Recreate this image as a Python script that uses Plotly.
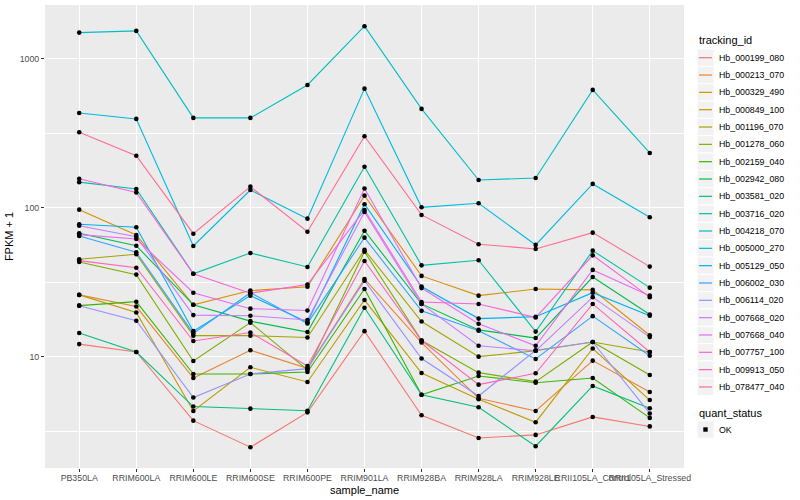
import plotly.graph_objects as go

# ---------------- data ----------------
samples = ["PB350LA", "RRIM600LA", "RRIM600LE", "RRIM600SE", "RRIM600PE",
           "RRIM901LA", "RRIM928BA", "RRIM928LA", "RRIM928LE",
           "RRII105LA_Control", "RRII105LA_Stressed"]

tracking_ids = ["Hb_000199_080", "Hb_000213_070", "Hb_000329_490", "Hb_000849_100",
                "Hb_001196_070", "Hb_001278_060", "Hb_002159_040", "Hb_002942_080",
                "Hb_003581_020", "Hb_003716_020", "Hb_004218_070", "Hb_005000_270",
                "Hb_005129_050", "Hb_006002_030", "Hb_006114_020", "Hb_007668_020",
                "Hb_007668_040", "Hb_007757_100", "Hb_009913_050", "Hb_078477_040"]

colors = ["#F8766D", "#EA8331", "#D89000", "#C09B00", "#A3A500", "#7CAE00",
          "#39B600", "#00BB4E", "#00BF7D", "#00C1A3", "#00BFC4", "#00BAE0",
          "#00B0F6", "#35A2FF", "#9590FF", "#C77CFF", "#E76BF3", "#FA62DB",
          "#FF62BC", "#FF6C91"]

# FPKM + 1 per sample
hb_000199_080 = [12.2, 10.8, 3.74, 2.48, 4.25, 14.9, 4.06, 2.86, 3.00, 3.96, 3.42]
hb_000213_070 = [26.1, 21.8, 7.23, 11.1, 8.40, 33.4, 12.5, 5.28, 4.34, 9.45, 5.82]
hb_000329_490 = [97.4, 65.9, 22.4, 27.9, 29.6, 121, 35.0, 25.8, 28.6, 28.2, 14.0]
hb_000849_100 = [26.1, 19.9, 4.34, 8.53, 6.80, 24.1, 7.81, 5.20, 3.65, 11.4, 5.14]
hb_001196_070 = [45.3, 48.9, 13.9, 13.9, 13.5, 52.3, 17.3, 10.05, 11.0, 12.6, 10.8]
hb_001278_060 = [43.4, 35.7, 9.40, 17.0, 8.18, 50.9, 12.9, 7.85, 6.83, 12.6, 7.57]
hb_002159_040 = [22.1, 23.5, 7.69, 7.69, 7.93, 28.6, 5.58, 7.46, 6.72, 7.23, 3.90]
hb_002942_080 = [67.7, 55.8, 22.4, 17.4, 14.7, 70.4, 22.7, 15.2, 13.4, 34.4, 19.3]
hb_003581_020 = [14.5, 10.8, 4.65, 4.50, 4.36, 21.4, 5.58, 4.60, 2.52, 6.39, 4.53]
hb_003716_020 = [149, 134, 36.2, 49.9, 40.2, 189, 41.2, 44.6, 14.8, 51.7, 29.2]
hb_004218_070 = [1502, 1542, 402, 402, 669, 1658, 462, 154, 159, 620, 234]
hb_005000_270 = [434, 396, 55.6, 132, 84.8, 632, 101, 107.5, 56.5, 145, 86.6]
hb_005129_050 = [77.7, 74.2, 14.9, 25.8, 17.1, 106, 29.7, 18.1, 18.6, 27.0, 18.9]
hb_006002_030 = [64.9, 50.4, 14.4, 27.0, 16.8, 63.2, 20.4, 15.0, 9.70, 18.8, 10.2]
hb_006114_020 = [22.1, 17.5, 5.35, 7.69, 8.35, 32.5, 9.77, 5.47, 11.1, 12.6, 4.18]
hb_007668_020 = [76.0, 64.2, 19.1, 18.9, 17.7, 94.0, 22.7, 11.9, 11.0, 25.2, 13.6]
hb_007668_040 = [66.2, 61.9, 27.0, 21.1, 20.5, 135, 29.0, 16.7, 11.9, 38.4, 25.8]
hb_007757_100 = [157, 127, 36.2, 26.8, 30.6, 97.0, 23.4, 22.7, 18.4, 48.1, 25.2]
hb_009913_050 = [44.3, 39.7, 12.8, 14.6, 8.70, 44.1, 12.9, 6.52, 7.77, 22.7, 10.8]
hb_078477_040 = [322, 224, 67.2, 139, 69.3, 303, 89.8, 57.1, 53.1, 68.3, 40.4]

series = [hb_000199_080, hb_000213_070, hb_000329_490, hb_000849_100, hb_001196_070,
          hb_001278_060, hb_002159_040, hb_002942_080, hb_003581_020, hb_003716_020,
          hb_004218_070, hb_005000_270, hb_005129_050, hb_006002_030, hb_006114_020,
          hb_007668_020, hb_007668_040, hb_007757_100, hb_009913_050, hb_078477_040]

y_ticks = [10, 100, 1000]
y_minor = [10 ** 0.5, 10 ** 1.5, 10 ** 2.5]

# ---------------- figure ----------------
W, H = 800, 500
ML, MR, MT, MB = 45, 116, 5, 32
pw, ph = W - ML - MR, H - MT - MB


def px(x):
    return (x - ML) / pw


def py(y):
    return (H - MB - y) / ph


fig = go.Figure()
for name, col, vals in zip(tracking_ids, colors, series):
    fig.add_trace(go.Scatter(x=samples, y=vals, mode="lines", name=name,
                             line=dict(color=col, width=1.1), showlegend=False,
                             hoverinfo="skip"))

all_x, all_y = [], []
for vals in series:
    all_x += samples
    all_y += vals
fig.add_trace(go.Scatter(x=all_x, y=all_y, mode="markers", name="OK",
                         marker=dict(color="black", size=4.6, symbol="circle"),
                         showlegend=False))

FONT = "Liberation Sans, Arial, sans-serif"
shapes, annots = [], []

# x-axis title
annots.append(dict(text="sample_name", x=0.5, y=py(490), xref="paper", yref="paper",
                   xanchor="center", yanchor="middle", showarrow=False, borderpad=0,
                   font=dict(family=FONT, size=11, color="black")))

# legend: tracking_id
lx0, lx1 = 697, 714
row0, step = 57.7, 17.33
annots.append(dict(text="tracking_id", x=px(lx0), y=py(40.5), xref="paper", yref="paper",
                   xanchor="left", yanchor="middle", showarrow=False,
                   font=dict(family=FONT, size=11, color="black")))
for i, (name, col) in enumerate(zip(tracking_ids, colors)):
    cy = row0 + i * step
    shapes.append(dict(type="rect", xref="paper", yref="paper",
                       x0=px(lx0), x1=px(lx1), y0=py(cy - step / 2), y1=py(cy + step / 2),
                       fillcolor="#F2F2F2", line=dict(color="white", width=1), layer="above"))
    shapes.append(dict(type="line", xref="paper", yref="paper",
                       x0=px(lx0 + 2), x1=px(lx1 - 2), y0=py(cy), y1=py(cy),
                       line=dict(color=col, width=1.2), layer="above"))
    annots.append(dict(text=name, x=px(717), y=py(cy), xref="paper", yref="paper",
                       xanchor="left", yanchor="middle", showarrow=False,
                       font=dict(family=FONT, size=8.8, color="black")))

# legend: quant_status
annots.append(dict(text="quant_status", x=px(lx0), y=py(412.5), xref="paper", yref="paper",
                   xanchor="left", yanchor="middle", showarrow=False,
                   font=dict(family=FONT, size=11, color="black")))
cy = 429.5
shapes.append(dict(type="rect", xref="paper", yref="paper",
                   x0=px(lx0), x1=px(lx1), y0=py(cy - step / 2), y1=py(cy + step / 2),
                   fillcolor="#F2F2F2", line=dict(color="white", width=1), layer="above"))
cx = (lx0 + lx1) / 2
shapes.append(dict(type="rect", xref="paper", yref="paper",
                   x0=px(cx - 2.2), x1=px(cx + 2.2), y0=py(cy - 2.2), y1=py(cy + 2.2),
                   fillcolor="black", line=dict(width=0), layer="above"))
annots.append(dict(text="OK", x=px(717), y=py(cy), xref="paper", yref="paper",
                   xanchor="left", yanchor="middle", showarrow=False,
                   font=dict(family=FONT, size=8.8, color="black")))

fig.update_layout(
    width=W, height=H,
    margin=dict(l=ML, r=MR, t=MT, b=MB, pad=0),
    paper_bgcolor="white", plot_bgcolor="#EBEBEB",
    font=dict(family=FONT, size=8.8, color="#4D4D4D"),
    showlegend=False,
    shapes=shapes, annotations=annots,
    xaxis=dict(type="category", categoryorder="array", categoryarray=samples,
               tickmode="array", tickvals=samples, ticktext=samples,
               range=[-0.6, len(samples) - 0.4], tickangle=0,
               showgrid=True, gridcolor="white", gridwidth=1.1,
               zeroline=False, showline=False,
               ticks="outside", ticklen=3, tickwidth=1, tickcolor="#333333",
               ticklabelstandoff=-2,
               tickfont=dict(family=FONT, size=8.8, color="#4D4D4D")),
    yaxis=dict(type="log", range=[0.255, 3.362],
               tickmode="array", tickvals=y_ticks, ticktext=[str(v) for v in y_ticks],
               showgrid=True, gridcolor="white", gridwidth=1.1,
               minor=dict(tickmode="array", tickvals=y_minor, showgrid=True,
                          gridcolor="white", gridwidth=0.55, ticklen=0),
               zeroline=False, showline=False,
               ticks="outside", ticklen=3, tickwidth=1, tickcolor="#333333",
               tickfont=dict(family=FONT, size=8.8, color="#4D4D4D"),
               title=dict(text="FPKM + 1", standoff=3,
                          font=dict(family=FONT, size=11, color="black"))),
)

fig.write_html("out.html", config={"displayModeBar": False},
               post_script="document.body.style.margin='0';document.body.style.overflow='hidden';")
